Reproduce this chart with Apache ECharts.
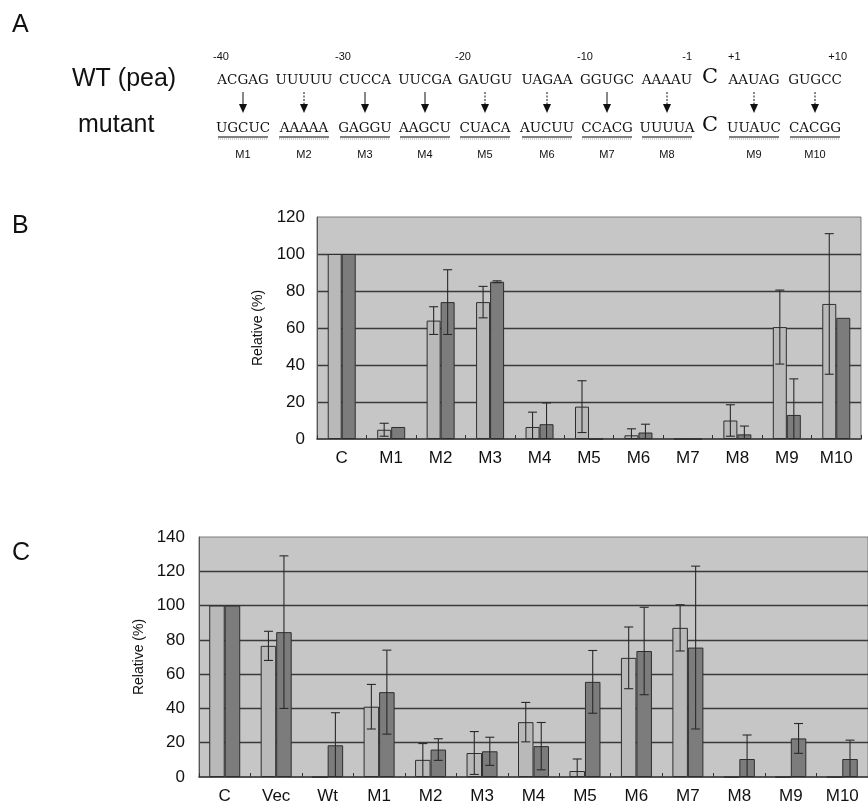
<!DOCTYPE html>
<html>
<head>
<meta charset="utf-8">
<script src="https://cdn.jsdelivr.net/npm/echarts@6/dist/echarts.min.js"></script>
<style>
html,body{margin:0;padding:0;background:#fff;}
#chart{width:868px;height:808px;}
</style>
</head>
<body>
<div id="chart"></div>
<script>
// ---------- Panel A data ----------
var wtSeqs = ['ACGAG','UUUUU','CUCCA','UUCGA','GAUGU','UAGAA','GGUGC','AAAAU','AAUAG','GUGCC'];
var mutSeqs = ['UGCUC','AAAAA','GAGGU','AAGCU','CUACA','AUCUU','CCACG','UUUUA','UUAUC','CACGG'];
var mutNames = ['M1','M2','M3','M4','M5','M6','M7','M8','M9','M10'];
var arrowDashed = [false,true,false,false,true,true,false,true,true,true];
var posLabels = ['-40','-30','-20','-10','-1','+1','+10'];
var centerBase = 'C';

// ---------- Panel B data ----------
var catsB = ['C','M1','M2','M3','M4','M5','M6','M7','M8','M9','M10'];
var lightB = [100, 5, 64, 74, 6.5, 17.5, 2, 0, 10, 60.5, 73];
var lightErrB = [null, 3.5, 7.5, 8.5, 8, 14, 3.5, null, 8.5, 20, 38];
var darkB = [100, 6.5, 74, 85, 8, 0, 3.5, 0, 2.5, 13, 65.5];
var darkErrB = [null, null, 17.5, 0.5, 11.5, null, 4.5, null, 4.5, 19.5, null];
var ticksB = [0, 20, 40, 60, 80, 100, 120];

// ---------- Panel C data ----------
var catsC = ['C','Vec','Wt','M1','M2','M3','M4','M5','M6','M7','M8','M9','M10'];
var lightC = [100, 76.5, 0, 41, 10, 14, 32, 3.5, 69.5, 87, 0, 0, 0];
var lightErrC = [null, 8.5, null, 13, 9.5, 12.5, 11.5, 7, 18, 13.5, null, null, null];
var darkC = [100, 84.5, 18.5, 49.5, 16, 15, 18, 55.5, 73.5, 75.5, 10.5, 22.5, 10.5];
var darkErrC = [null, 44.5, 19, 24.5, 6.3, 8.2, 13.8, 18.3, 25.5, 47.5, 14, 8.7, 11];
var ticksC = [0, 20, 40, 60, 80, 100, 120, 140];

var SANS = '"Liberation Sans", Arial, Helvetica, sans-serif';
var SERIF = '"DejaVu Serif", "Liberation Serif", serif';
var LIGHT = '#b9b9b9', DARK = '#7c7c7c', BG = '#c6c6c6', EDGE = '#2e2e2e';

// ---------- Panel A graphics ----------
var seqX = [243, 304, 365, 425, 485, 547, 607, 667, 754, 815];
var posX = [213, 335, 455, 577, 692, 728, 847];
var posAlign = ['left','left','left','left','right','left','right'];
var graphics = [];
function txt(x, y, s, size, fam, align, weight) {
  graphics.push({type:'text', x:x, y:y, silent:true, style:{text:s, fill:'#111', font:(weight||'normal')+' '+size+'px '+fam, align:align||'left', verticalAlign:'middle'}});
}
txt(12, 25, 'A', 25, SANS);
txt(12, 226, 'B', 25, SANS);
txt(12, 553, 'C', 25, SANS);
txt(72, 79, 'WT (pea)', 25, SANS);
txt(78, 125, 'mutant', 25, SANS);
for (var i = 0; i < wtSeqs.length; i++) {
  var cx = seqX[i];
  txt(cx, 80, wtSeqs[i], 13.5, SERIF, 'center');
  txt(cx, 128, mutSeqs[i], 13.5, SERIF, 'center');
  txt(cx, 155, mutNames[i], 11, SANS, 'center');
  graphics.push({type:'line', silent:true, shape:{x1:cx-25, y1:137, x2:cx+25, y2:137}, style:{stroke:'#555', lineWidth:1.3}});
  graphics.push({type:'line', silent:true, shape:{x1:cx-25, y1:139, x2:cx+25, y2:139}, style:{stroke:'#aaa', lineWidth:1, lineDash:[1,1]}});
  graphics.push({type:'line', silent:true, shape:{x1:cx, y1:92, x2:cx, y2:105}, style:{stroke:'#111', lineWidth:1, lineDash: arrowDashed[i] ? [2,1.5] : null}});
  graphics.push({type:'polygon', silent:true, shape:{points:[[cx-4,104],[cx+4,104],[cx,113]]}, style:{fill:'#111'}});
}
txt(710, 78, centerBase, 21, SERIF, 'center');
txt(710, 126, centerBase, 21, SERIF, 'center');
for (var j = 0; j < posLabels.length; j++) {
  txt(posX[j], 57, posLabels[j], 11, SANS, posAlign[j]);
}

// ---------- helpers ----------
function errData(vals, errs, side) {
  var out = [];
  for (var k = 0; k < vals.length; k++) if (errs[k] != null) out.push([k, vals[k], errs[k], side]);
  return out;
}
function makeErrRender(bw) {
  return function (params, api) {
    var i = api.value(0), v = api.value(1), e = api.value(2), side = api.value(3);
    var c = api.coord([i, v]);
    var x = c[0] + side * bw / 2;
    var lo = Math.max(0, v - e);
    var yt = api.coord([i, v + e])[1];
    var yb = api.coord([i, lo])[1];
    var cap = 4.5;
    var st = {stroke:'#2a2a2a', lineWidth:1.1};
    var ch = [
      {type:'line', shape:{x1:x, y1:yt, x2:x, y2:yb}, style:st},
      {type:'line', shape:{x1:x-cap, y1:yt, x2:x+cap, y2:yt}, style:st}
    ];
    if (v - e > 0.5) ch.push({type:'line', shape:{x1:x-cap, y1:yb, x2:x+cap, y2:yb}, style:st});
    return {type:'group', children:ch};
  };
}
function splitColors(n) {
  var a = [];
  for (var k = 0; k < n; k++) a.push((k === 0 || k === n - 1) ? 'rgba(0,0,0,0)' : '#3a3a3a');
  return a;
}
function xAx(gi, cats) {
  return {type:'category', gridIndex:gi, data:cats,
    axisLine:{show:true, lineStyle:{color:'#333', width:1.5}},
    axisTick:{show:true, inside:true, length:4, lineStyle:{color:'#333'}},
    axisLabel:{fontFamily:SANS, fontSize:17, color:'#111', margin:11},
    splitLine:{show:false}};
}
function yAx(gi, max, labelMargin, nameGap) {
  return {type:'value', gridIndex:gi, min:0, max:max, interval:20,
    name:'Relative (%)', nameLocation:'middle', nameRotate:90, nameGap:nameGap,
    nameTextStyle:{fontFamily:SANS, fontSize:14, color:'#111'},
    axisLine:{show:true, lineStyle:{color:'#555', width:1}},
    axisTick:{show:false},
    axisLabel:{fontFamily:SANS, fontSize:17, color:'#111', margin:labelMargin},
    splitLine:{show:true, lineStyle:{color:splitColors(max/20+1), width:1.3}}};
}
function barSeries(xi, vals, color, bw) {
  return {type:'bar', xAxisIndex:xi, yAxisIndex:xi, data:vals, barWidth:bw, barGap:'0%',
    itemStyle:{color:color, borderColor:EDGE, borderWidth:1}, silent:true, z:2};
}

var option = {
  animation:false,
  backgroundColor:'#fff',
  graphic:graphics,
  grid:[
    {left:317, top:217, width:544, height:222, show:true, backgroundColor:BG, borderColor:'#7a7a7a', borderWidth:1},
    {left:199, top:537, width:671, height:240, show:true, backgroundColor:BG, borderColor:'#7a7a7a', borderWidth:1}
  ],
  xAxis:[xAx(0, catsB), xAx(1, catsC)],
  yAxis:[yAx(0, 120, 12, 52), yAx(1, 140, 14, 49)],
  series:[
    barSeries(0, lightB, LIGHT, 14),
    barSeries(0, darkB, DARK, 14),
    {type:'custom', xAxisIndex:0, yAxisIndex:0, renderItem:makeErrRender(14), data:errData(lightB, lightErrB, -1), z:5, silent:true},
    {type:'custom', xAxisIndex:0, yAxisIndex:0, renderItem:makeErrRender(14), data:errData(darkB, darkErrB, 1), z:5, silent:true},
    barSeries(1, lightC, LIGHT, 15.5),
    barSeries(1, darkC, DARK, 15.5),
    {type:'custom', xAxisIndex:1, yAxisIndex:1, renderItem:makeErrRender(15.5), data:errData(lightC, lightErrC, -1), z:5, silent:true},
    {type:'custom', xAxisIndex:1, yAxisIndex:1, renderItem:makeErrRender(15.5), data:errData(darkC, darkErrC, 1), z:5, silent:true}
  ]
};
var chart = echarts.init(document.getElementById('chart'), null, {renderer:'canvas'});
chart.setOption(option);
</script>
</body>
</html>
